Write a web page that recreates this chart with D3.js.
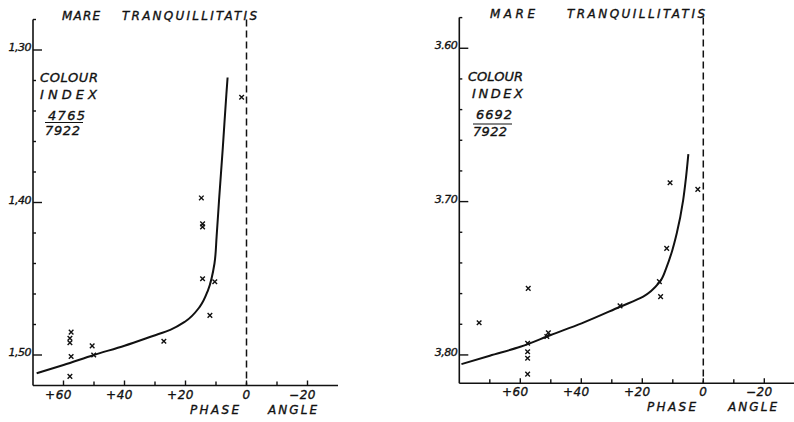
<!DOCTYPE html>
<html>
<head>
<meta charset="utf-8">
<script src="https://cdn.jsdelivr.net/npm/d3@7"></script>
<style>
  body { margin: 0; background: #fff; }
  svg text { font-family: "DejaVu Sans", sans-serif; font-style: italic; fill: #111; stroke: #111; stroke-width: 0.35px; }
</style>
</head>
<body>
<div id="chart"></div>
<script>
// colour index vs phase angle, Mare Tranquillitatis (two filters)

// left panel: 4765/7922
const leftPhase = [14.8, 1.6, 14.4, 14.4, 14.4, 10.4, 12.0, 27.1, 57.5, 57.9, 57.9, 57.5, 57.9, 50.6, 50.1];
const leftIndex = [1.397, 1.331, 1.414, 1.416, 1.450, 1.452, 1.474, 1.491, 1.485, 1.489, 1.492, 1.501, 1.514, 1.494, 1.500];
const leftCurvePhase = [68.8, 60, 50, 40, 30.7, 25, 20.2, 15.3, 12.6, 10.5, 9.8, 9.0, 7.8, 6.6, 6.2];
const leftCurveIndex = [1.512, 1.5066, 1.500, 1.4939, 1.4875, 1.4835, 1.4782, 1.4683, 1.4574, 1.440, 1.4224, 1.3984, 1.365, 1.329, 1.318];
const leftMajor = [1.30, 1.40, 1.50];
const leftMajorLabels = ["1,30", "1,40", "1,50"];
const leftMinor = [1.28, 1.32, 1.34, 1.36, 1.38, 1.42, 1.44, 1.46, 1.48];
const leftXMajor = [60, 40, 20, 0, -20];
const leftXMinor = [50, 30, 10, -10];

// right panel: 6692/7922
const rightPhase = [10.9, 1.8, 12.0, 14.4, 14.0, 27.3, 57.4, 73.5, 50.8, 51.3, 57.6, 57.6, 57.6, 57.6];
const rightIndex = [3.6877, 3.692, 3.7305, 3.7522, 3.762, 3.768, 3.7566, 3.779, 3.7855, 3.788, 3.7924, 3.7979, 3.8022, 3.8125];
const rightCurvePhase = [79.3, 70, 60, 50, 39.9, 27.3, 19.7, 14.4, 12.0, 10.2, 8.7, 6.6, 5.7, 4.9];
const rightCurveIndex = [3.806, 3.8005, 3.7947, 3.787, 3.7794, 3.7686, 3.762, 3.7527, 3.7425, 3.732, 3.7207, 3.699, 3.6848, 3.669];
const rightMajor = [3.60, 3.70, 3.80];
const rightMajorLabels = ["3.60", "3.70", "3,80"];
const rightMinor = [3.58, 3.62, 3.64, 3.66, 3.68, 3.72, 3.74, 3.76, 3.78];
const rightXMajor = [60, 40, 20, 0, -20];
const rightXMinor = [70, 50, 30, 10, -10];

const svg = d3.select("#chart").append("svg")
  .attr("width", 794)
  .attr("height", 422);

function fmtPhase(d) {
  if (d > 0) return "+" + d;
  if (d < 0) return "\u2212" + Math.abs(d);
  return "0";
}

function drawPanel(p) {
  let g = svg.append("g");

  let x = d3.scaleLinear().domain(p.xDomain).range(p.xRange);
  let y = d3.scaleLinear().domain(p.yDomain).range(p.yRange);

  let left = p.xRange[0], right = p.xRange[1];
  let top = p.yRange[0], bottom = p.yRange[1];

  // axis lines
  g.append("line")
    .attr("x1", left).attr("x2", left)
    .attr("y1", top).attr("y2", bottom)
    .attr("stroke", "#111").attr("stroke-width", 1.6);
  g.append("line")
    .attr("x1", left).attr("x2", right)
    .attr("y1", bottom).attr("y2", bottom)
    .attr("stroke", "#111").attr("stroke-width", 1.6);

  // y ticks (pointing inwards)
  g.selectAll(".ymaj").data(p.yMajor).enter().append("line")
    .attr("x1", left).attr("x2", left + 9)
    .attr("y1", d => y(d)).attr("y2", d => y(d))
    .attr("stroke", "#111").attr("stroke-width", 1.4);
  g.selectAll(".ymin").data(p.yMinor).enter().append("line")
    .attr("x1", left).attr("x2", left + 3)
    .attr("y1", d => y(d)).attr("y2", d => y(d))
    .attr("stroke", "#111").attr("stroke-width", 1.4);
  g.selectAll(".ylab").data(p.yMajor).enter().append("text")
    .attr("x", left - 2)
    .attr("y", d => y(d) + 1)
    .style("text-anchor", "end")
    .style("font-size", "11px")
    .style("letter-spacing", "-0.5px")
    .text((d, i) => p.yLabels[i]);

  // x ticks (pointing up)
  g.selectAll(".xmaj").data(p.xMajor).enter().append("line")
    .attr("x1", d => x(d)).attr("x2", d => x(d))
    .attr("y1", bottom).attr("y2", bottom - 5)
    .attr("stroke", "#111").attr("stroke-width", 1.4);
  g.selectAll(".xmin").data(p.xMinor).enter().append("line")
    .attr("x1", d => x(d)).attr("x2", d => x(d))
    .attr("y1", bottom).attr("y2", bottom - 4)
    .attr("stroke", "#111").attr("stroke-width", 1.4);
  g.selectAll(".xlab").data(p.xMajor).enter().append("text")
    .attr("x", d => x(d) - (d === 0 ? 0 : 5))
    .attr("y", bottom + 13)
    .style("text-anchor", "middle")
    .style("font-size", "12px")
    .style("letter-spacing", "0.5px")
    .text(fmtPhase);

  // dashed zero-phase line
  g.append("line")
    .attr("x1", x(0)).attr("x2", x(0))
    .attr("y1", top).attr("y2", bottom)
    .attr("stroke", "#111").attr("stroke-width", 1.5)
    .attr("stroke-dasharray", "7,4");

  // fitted curve
  let curveData = p.curvePhase.map((d, i) => [d, p.curveIndex[i]]);
  g.append("path")
    .datum(curveData)
    .attr("fill", "none")
    .attr("stroke", "#111")
    .attr("stroke-width", 2)
    .attr("d", d3.line()
      .x(d => x(d[0]))
      .y(d => y(d[1]))
      .curve(d3.curveMonotoneY));

  // observations as small crosses
  let pts = p.phase.map((d, i) => [d, p.index[i]]);
  let s = 2.3;
  let marks = g.selectAll(".pt").data(pts).enter().append("g")
    .attr("transform", d => `translate(${x(d[0])}, ${y(d[1])})`);
  marks.append("path")
    .attr("d", `M${-s},${-s}L${s},${s}M${-s},${s}L${s},${-s}`)
    .attr("stroke", "#111").attr("stroke-width", 1.4);

  // titles
  g.append("text")
    .attr("x", p.mareX).attr("y", p.titleY)
    .attr("textLength", p.mareW).attr("lengthAdjust", "spacing")
    .style("font-size", "12px")
    .text("MARE");
  g.append("text")
    .attr("x", p.tranX).attr("y", p.titleY)
    .attr("textLength", p.tranW).attr("lengthAdjust", "spacing")
    .style("font-size", "12px")
    .text("TRANQUILLITATIS");

  // colour index label
  g.append("text")
    .attr("x", p.lab.colourX).attr("y", p.lab.colourY)
    .attr("textLength", p.lab.colourW).attr("lengthAdjust", "spacing")
    .style("font-size", "13px")
    .text("COLOUR");
  g.append("text")
    .attr("x", p.lab.indexX).attr("y", p.lab.indexY)
    .attr("textLength", p.lab.indexW).attr("lengthAdjust", "spacing")
    .style("font-size", "13px")
    .text("INDEX");
  g.append("text")
    .attr("x", p.lab.numX).attr("y", p.lab.numY)
    .attr("textLength", p.lab.numW).attr("lengthAdjust", "spacing")
    .style("font-size", "13px")
    .text(p.numerator);
  g.append("line")
    .attr("x1", p.lab.barX1).attr("x2", p.lab.barX2)
    .attr("y1", p.lab.barY).attr("y2", p.lab.barY)
    .attr("stroke", "#111").attr("stroke-width", 1.2);
  g.append("text")
    .attr("x", p.lab.denX).attr("y", p.lab.denY)
    .attr("textLength", p.lab.denW).attr("lengthAdjust", "spacing")
    .style("font-size", "13px")
    .text(p.denominator);

  // phase angle caption
  g.append("text")
    .attr("x", p.phaseX).attr("y", bottom + 28)
    .attr("textLength", 49).attr("lengthAdjust", "spacing")
    .style("font-size", "12px")
    .text("PHASE");
  g.append("text")
    .attr("x", p.angleX).attr("y", bottom + 28)
    .attr("textLength", 49).attr("lengthAdjust", "spacing")
    .style("font-size", "12px")
    .text("ANGLE");
}

drawPanel({
  xDomain: [70, -30], xRange: [33, 338],
  yDomain: [1.28, 1.52], yRange: [19.5, 385.5],
  yMajor: leftMajor, yLabels: leftMajorLabels, yMinor: leftMinor,
  xMajor: leftXMajor, xMinor: leftXMinor,
  phase: leftPhase, index: leftIndex,
  curvePhase: leftCurvePhase, curveIndex: leftCurveIndex,
  titleY: 20, mareX: 62, mareW: 38, tranX: 122, tranW: 135,
  numerator: "4765", denominator: "7922",
  lab: {colourX: 40, colourY: 82, colourW: 58, indexX: 40, indexY: 99, indexW: 57,
        numX: 48, numY: 120, numW: 37, barX1: 45, barX2: 83, barY: 122.5,
        denX: 45, denY: 135, denW: 35},
  phaseX: 190, angleX: 268
});

drawPanel({
  xDomain: [80, -30], xRange: [459.3, 794.8],
  yDomain: [3.58, 3.8185], yRange: [17.6, 383.3],
  yMajor: rightMajor, yLabels: rightMajorLabels, yMinor: rightMinor,
  xMajor: rightXMajor, xMinor: rightXMinor,
  phase: rightPhase, index: rightIndex,
  curvePhase: rightCurvePhase, curveIndex: rightCurveIndex,
  titleY: 18, mareX: 490, mareW: 45, tranX: 567, tranW: 138,
  numerator: "6692", denominator: "7922",
  lab: {colourX: 468, colourY: 81, colourW: 55, indexX: 472, indexY: 98, indexW: 51,
        numX: 476, numY: 119, numW: 36, barX1: 473, barX2: 512, barY: 124,
        denX: 473, denY: 136, denW: 34},
  phaseX: 647, angleX: 728
});
</script>
</body>
</html>
